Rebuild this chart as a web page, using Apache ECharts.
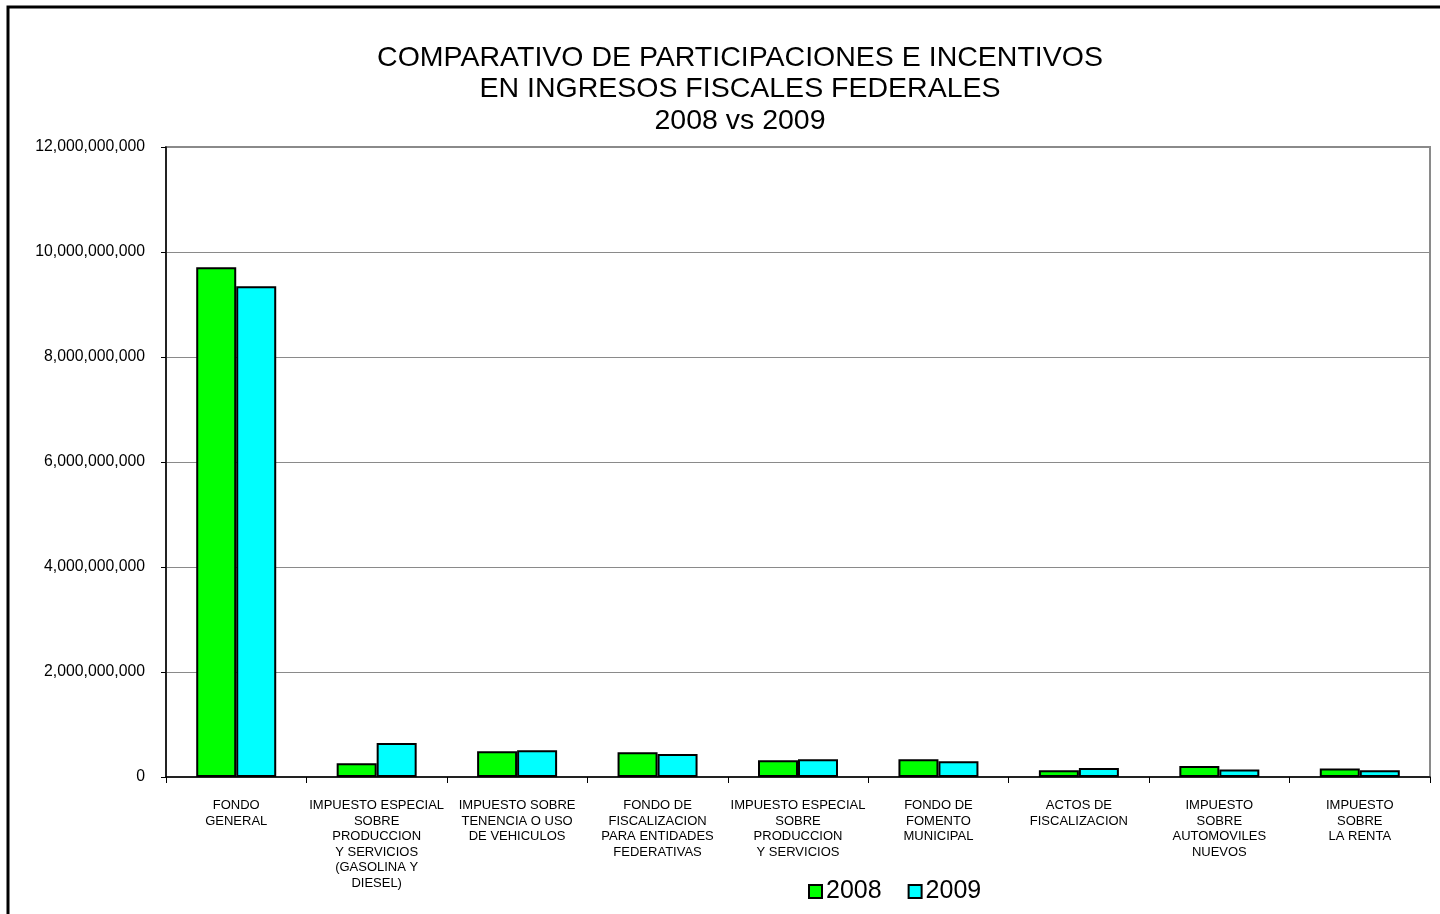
<!DOCTYPE html>
<html>
<head>
<meta charset="utf-8">
<title>Comparativo de participaciones</title>
<script src="https://cdn.jsdelivr.net/npm/echarts@6/dist/echarts.min.js"></script>
<style>
  html, body { margin: 0; padding: 0; background: #fff; }
  #chart { width: 1440px; height: 914px; }
</style>
</head>
<body>
<div id="chart"></div>
<script>
const categories = [
  'FONDO\nGENERAL',
  'IMPUESTO ESPECIAL\nSOBRE\nPRODUCCION\nY SERVICIOS\n(GASOLINA Y\nDIESEL)',
  'IMPUESTO SOBRE\nTENENCIA O USO\nDE VEHICULOS',
  'FONDO DE\nFISCALIZACION\nPARA ENTIDADES\nFEDERATIVAS',
  'IMPUESTO ESPECIAL\nSOBRE\nPRODUCCION\nY SERVICIOS',
  'FONDO DE\nFOMENTO\nMUNICIPAL',
  'ACTOS DE\nFISCALIZACION',
  'IMPUESTO\nSOBRE\nAUTOMOVILES\nNUEVOS',
  'IMPUESTO\nSOBRE\nLA RENTA'
]
const values2008 = [9710000000, 260000000, 490000000, 470000000, 320000000, 340000000, 130000000, 210000000, 160000000]
const values2009 = [9350000000, 650000000, 510000000, 440000000, 340000000, 300000000, 170000000, 145000000, 130000000]

const font = 'Liberation Sans, Arial, sans-serif'

const chart = echarts.init(document.getElementById('chart'))

chart.setOption({
  animation: false,
  title: {
    text: 'COMPARATIVO DE PARTICIPACIONES E INCENTIVOS\nEN INGRESOS FISCALES FEDERALES\n2008 vs 2009',
    left: 735,
    top: 37,
    textAlign: 'center',
    textStyle: {
      fontFamily: font,
      fontSize: 28.5,
      fontWeight: 'normal',
      color: '#000',
      lineHeight: 31.5
    }
  },
  legend: {
    data: ['2008', '2009'],
    left: 808,
    top: 879,
    padding: 0,
    icon: 'rect',
    itemWidth: 13,
    itemHeight: 13,
    itemGap: 26,
    itemStyle: { borderColor: '#000', borderWidth: 2 },
    textStyle: { fontFamily: font, fontSize: 25, color: '#000', padding: [0, 0, 0, -1] }
  },
  graphic: [{
    type: 'rect',
    shape: { x: 8, y: 7, width: 1500, height: 1000 },
    style: { fill: 'none', stroke: '#000', lineWidth: 3 },
    silent: true
  }],
  grid: {
    left: 166,
    right: 10,
    top: 147,
    bottom: 137,
    show: true,
    borderColor: '#8a8a8a',
    borderWidth: 2
  },
  xAxis: {
    type: 'category',
    data: categories,
    axisLine: { lineStyle: { color: '#000', width: 1.5 } },
    axisTick: { show: true, length: 6, lineStyle: { color: '#000' } },
    axisLabel: {
      interval: 0,
      margin: 21,
      fontFamily: font,
      fontSize: 13,
      lineHeight: 15.5,
      color: '#000'
    }
  },
  yAxis: {
    type: 'value',
    min: 0,
    max: 12000000000,
    interval: 2000000000,
    axisLine: { show: true, lineStyle: { color: '#000', width: 1.5 } },
    axisTick: { show: true, length: 5, lineStyle: { color: '#000' } },
    splitLine: { lineStyle: { color: '#8a8a8a', width: 1 } },
    axisLabel: {
      margin: 21,
      fontFamily: font,
      fontSize: 15.8,
      color: '#000',
      formatter: v => v.toLocaleString('en-US')
    }
  },
  series: [
    {
      name: '2008',
      type: 'bar',
      data: values2008,
      barWidth: 40,
      barGap: '0%',
      itemStyle: { color: '#00ff00', borderColor: '#000', borderWidth: 2 }
    },
    {
      name: '2009',
      type: 'bar',
      data: values2009,
      barWidth: 40,
      barGap: '0%',
      itemStyle: { color: '#00ffff', borderColor: '#000', borderWidth: 2 }
    }
  ]
})
</script>
</body>
</html>
